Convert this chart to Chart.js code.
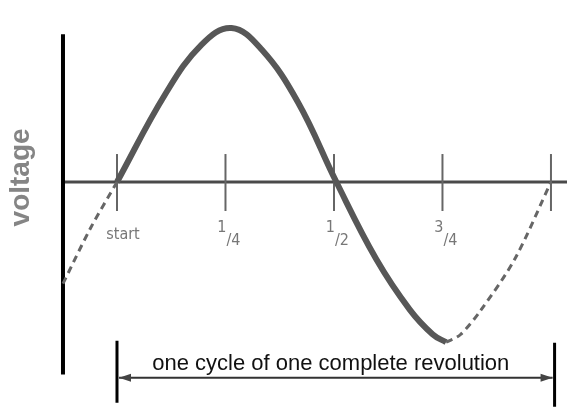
<!DOCTYPE html>
<html>
<head>
<meta charset="utf-8">
<script src="https://cdn.jsdelivr.net/npm/chart.js@4"></script>
<style>
  body { margin: 0; background: #fff; }
  canvas { display: block; }
</style>
</head>
<body>
<canvas id="myChart" width="567" height="418"></canvas>
<script>
// phase in degrees (start = 0, one cycle = 360), voltage in units of the peak
var solidDeg  = [0, 40, 70, 95, 120, 150, 182, 215, 243, 262, 273];
var solidVolt = [0, 0.57, 0.89, 1.0, 0.86, 0.52, 0, -0.50, -0.83, -0.99, -1.04];
var dashLeftDeg  = [-44.8, -22, 0];
var dashLeftVolt = [-0.66, -0.30, 0];
var dashRightDeg  = [273, 285, 302, 330, 360];
var dashRightVolt = [-1.04, -0.99, -0.83, -0.50, 0];

var tickDeg = [0, 90, 180, 270, 360];
var tickLabels = ['start', '1/4', '1/2', '3/4', ''];
var yTitle = 'voltage';
var cycleText = 'one cycle of one complete revolution';
var cycleFrom = 0, cycleTo = 363;

function toPoints(xs, ys) {
    var pts = [];
    for (let i = 0; i < xs.length; i++) {
        pts.push({x: xs[i], y: ys[i]});
    }
    return pts;
}

var decor = {
    id: 'decor',
    beforeDatasetsDraw(chart) {
        let ctx = chart.ctx;
        let x = chart.scales.x, y = chart.scales.y;
        let y0 = y.getPixelForValue(0);
        let xAxis = x.getPixelForValue(dashLeftDeg[0]);
        ctx.save();
        // horizontal axis
        ctx.strokeStyle = '#4a4a4a';
        ctx.lineWidth = 3;
        ctx.beginPath();
        ctx.moveTo(xAxis, y0);
        ctx.lineTo(chart.width, y0);
        ctx.stroke();
        // vertical axis
        ctx.strokeStyle = '#000';
        ctx.lineWidth = 4;
        ctx.beginPath();
        ctx.moveTo(xAxis, y.getPixelForValue(0.96));
        ctx.lineTo(xAxis, y.getPixelForValue(-1.25));
        ctx.stroke();
        // ticks and labels
        ctx.strokeStyle = '#666';
        ctx.lineWidth = 2;
        ctx.fillStyle = '#777';
        ctx.font = '16px "Liberation Sans Narrow", "DejaVu Sans Condensed", sans-serif';
        for (let i = 0; i < tickDeg.length; i++) {
            let px = x.getPixelForValue(tickDeg[i]);
            ctx.beginPath();
            ctx.moveTo(px, y0 - 28);
            ctx.lineTo(px, y0 + 29);
            ctx.stroke();
            let lab = tickLabels[i];
            if (!lab) continue;
            if (lab.indexOf('/') > 0) {
                let parts = lab.split('/');
                ctx.textAlign = 'right';
                ctx.fillText(parts[0], px + 1, y0 + 50);
                ctx.textAlign = 'left';
                ctx.fillText('/' + parts[1], px + 1, y0 + 63);
            } else {
                ctx.textAlign = 'center';
                ctx.fillText(lab, px + 6, y0 + 57);
            }
        }
        // y title
        ctx.save();
        ctx.translate(29, y.getPixelForValue(0.03));
        ctx.rotate(-Math.PI / 2);
        ctx.fillStyle = '#858585';
        ctx.font = 'bold 28px "Liberation Sans", Arial, sans-serif';
        ctx.textAlign = 'center';
        ctx.textBaseline = 'alphabetic';
        ctx.fillText(yTitle, 0, 0);
        ctx.restore();
        // cycle span
        let xa = x.getPixelForValue(cycleFrom), xb = x.getPixelForValue(cycleTo);
        let ya = y.getPixelForValue(-1.27);
        ctx.strokeStyle = '#000';
        ctx.lineWidth = 3;
        ctx.beginPath();
        ctx.moveTo(xa, ya - 37); ctx.lineTo(xa, ya + 25);
        ctx.moveTo(xb, ya - 35); ctx.lineTo(xb, ya + 29);
        ctx.stroke();
        ctx.strokeStyle = '#333';
        ctx.lineWidth = 2;
        ctx.beginPath();
        ctx.moveTo(xa + 2, ya); ctx.lineTo(xb - 2, ya);
        ctx.stroke();
        ctx.fillStyle = '#444';
        ctx.beginPath();
        ctx.moveTo(xa + 2, ya); ctx.lineTo(xa + 14, ya - 4); ctx.lineTo(xa + 14, ya + 4); ctx.closePath();
        ctx.moveTo(xb - 2, ya); ctx.lineTo(xb - 14, ya - 4); ctx.lineTo(xb - 14, ya + 4); ctx.closePath();
        ctx.fill();
        ctx.fillStyle = '#111';
        ctx.font = '22px "Liberation Sans", Arial, sans-serif';
        ctx.textAlign = 'center';
        ctx.fillText(cycleText, (xa + xb) / 2 - 5, ya - 8);
        ctx.restore();
    }
};

var ctx = document.getElementById('myChart').getContext('2d');
var myChart = new Chart(ctx, {
    type: 'line',
    data: {
        datasets: [{
            data: toPoints(dashLeftDeg, dashLeftVolt),
            borderColor: '#666',
            borderWidth: 3,
            borderDash: [7, 5],
            tension: 0.3
        }, {
            data: toPoints(dashRightDeg, dashRightVolt),
            borderColor: '#666',
            borderWidth: 3,
            borderDash: [7, 5],
            tension: 0.3
        }, {
            data: toPoints(solidDeg, solidVolt),
            borderColor: '#575757',
            borderWidth: 6,
            tension: 0.4
        }]
    },
    options: {
        responsive: false,
        animation: false,
        devicePixelRatio: 1,
        layout: { padding: 0 },
        elements: { point: { radius: 0 } },
        plugins: { legend: { display: false }, tooltip: { enabled: false } },
        scales: {
            x: { type: 'linear', min: -97.05, max: 373.3, display: false },
            y: { min: -1.532, max: 1.1818, display: false }
        }
    },
    plugins: [decor]
});
</script>
</body>
</html>
